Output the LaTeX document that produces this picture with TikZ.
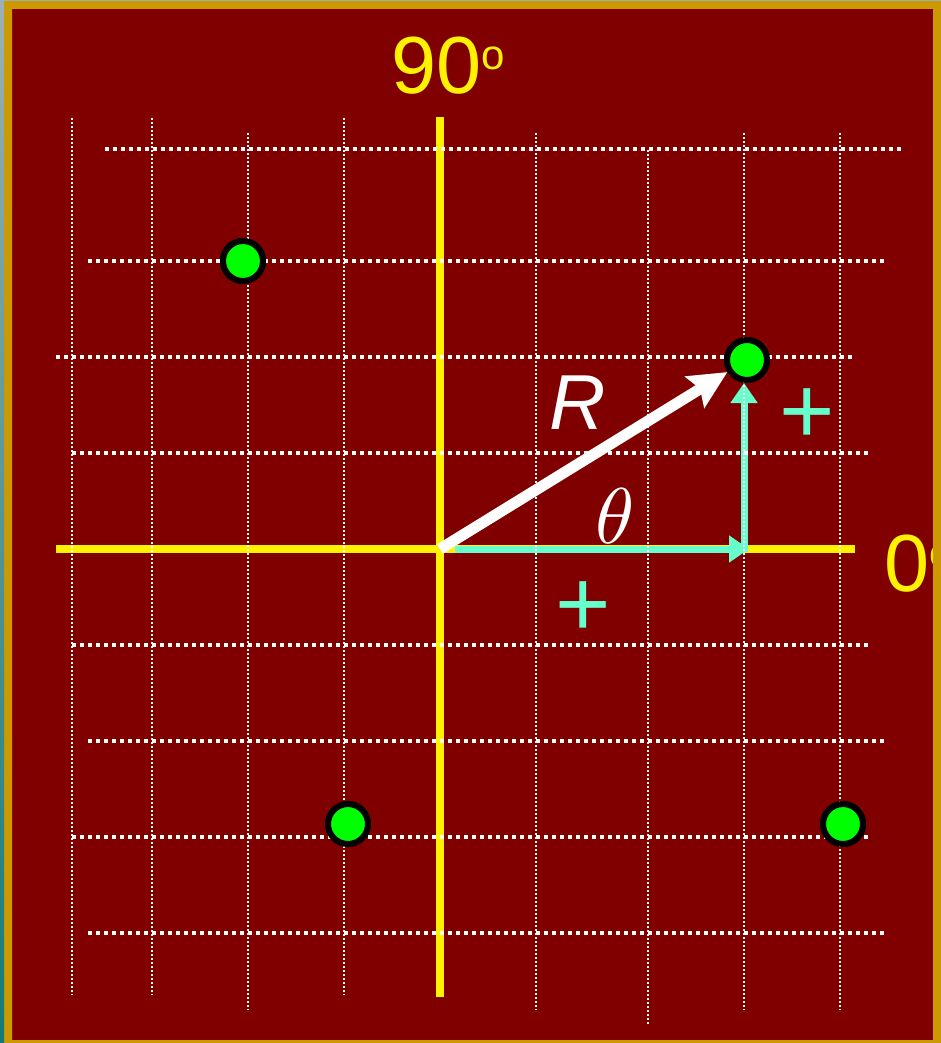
\documentclass[tikz,border=0pt]{standalone}
\usepackage{fontspec}
\setmainfont{Liberation Sans}
\usetikzlibrary{arrows.meta}

\definecolor{bgred}{HTML}{800000}
\definecolor{frame}{HTML}{CC9900}
\definecolor{aqua}{HTML}{66FFCC}
\definecolor{dotgreen}{HTML}{00FF00}
\definecolor{strip}{HTML}{9AB0B4}
\definecolor{stripb}{HTML}{127A7A}

\tikzset{
  vgrid/.style={white, line width=1pt, dash pattern=on 1pt off 1pt},
  hgrid/.style={white, line width=2pt, dash pattern=on 2pt off 2pt},
  axis/.style={yellow, line width=4pt},
  comp/.style={aqua, line width=3.5pt, -{Triangle[length=10pt,width=13pt]}},
  rvec/.style={white, line width=5.5pt, -{Stealth[length=19pt,width=18pt,inset=3pt]}},
  point/.style={circle, draw=black, fill=dotgreen, line width=3pt, minimum size=20pt, inner sep=0pt},
  lbl/.style={inner sep=0pt, yellow, font=\fontsize{40.5}{44}\selectfont},
  sign/.style={inner sep=0pt, anchor=base, aqua, font=\fontsize{47.5}{50}\selectfont}
}

\begin{document}
\begin{tikzpicture}[x=0.5pt,y=-0.5pt]
\useasboundingbox (0,0) rectangle (941,1043);
\fill[bgred] (0,0) rectangle (941,1043);

% axes
\draw[axis] (56,549) -- (855,549);
\draw[axis] (440,117) -- (440,997);

\coordinate (O) at (440,549);
\coordinate (hS) at (455,549);
\coordinate (hE) at (749,549);
\coordinate (C) at (744,552);

% points
\node[point] (q1) at (747,360) {};
\node[point] (q2) at (243,261) {};
\node[point] (q3) at (348,824) {};
\node[point] (q4) at (843,824) {};

% components and vector
\draw[comp] (hS) -- (hE);
\draw[comp] (C) -- (C |- q1.south);
\draw[rvec] (O) -- (q1);

% grid
\foreach \x/\a/\b in {72/118/995, 152/118/995, 248/133/1010, 344/118/995,
                      536/133/1010, 648/150/1026, 744/133/1010, 840/133/1010}
  \draw[vgrid] (\x,\a) -- (\x,\b);
\foreach \y/\a/\b in {149/105/902, 261/88/886, 357/56/854, 453/72/870,
                      645/72/870, 741/88/886, 837/72/870, 933/88/886}
  \draw[hgrid] (\a,\y) -- (\b,\y);

% points again over grid
\foreach \p in {q1,q2,q3,q4}
  \node[point] at (\p) {};

% labels
\node[lbl, anchor=base west] (deg90) at (391,94) {90\raisebox{12pt}{\fontsize{21}{22}\selectfont o}};
\node[lbl, anchor=base west] (deg0) at (884,591) {0\raisebox{12pt}{\fontsize{21}{22}\selectfont o}};
\node[white, inner sep=0pt, font=\fontsize{39}{40}\selectfont\itshape] (rlbl) at (578,403) {R};
\node[white, inner sep=0pt] (tlbl) at (615,516) {\scalebox{3.95}{$\theta$}};
\node[sign] (plusy) at (807,443) {+};
\node[sign] (plusx) at (583,636) {+};

% frame
\fill[frame, even odd rule] (0,0) rectangle (941,1043) (12,9) rectangle (933,1040);
\fill[strip] (0,0) rectangle (941,1);
\shade[top color=strip, bottom color=stripb] (0,0) rectangle (4,1043);
\end{tikzpicture}
\end{document}
